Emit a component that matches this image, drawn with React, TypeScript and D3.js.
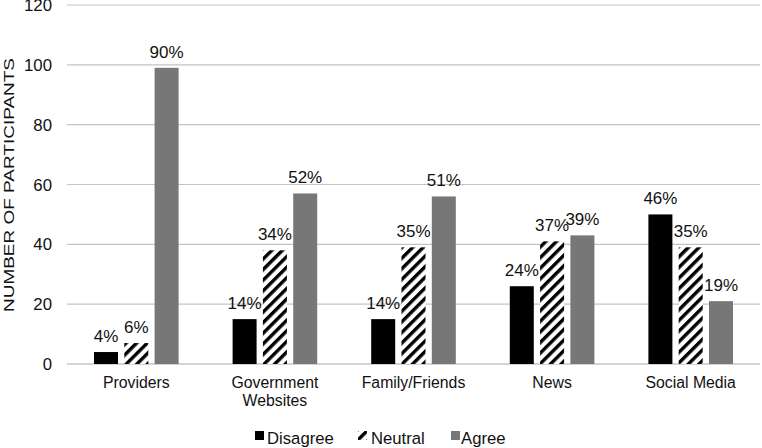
import React from "react";
import * as d3 from "d3";

const categories = ["Providers", "Government\nWebsites", "Family/Friends", "News", "Social Media"];
const seriesNames = ["Disagree", "Neutral", "Agree"];
const disagree = [4, 15, 15, 26, 50];
const neutral = [7, 38, 39, 41, 39];
const agree = [99, 57, 56, 43, 21];
const disagreePct = ["4%", "14%", "14%", "24%", "46%"];
const neutralPct = ["6%", "34%", "35%", "37%", "35%"];
const agreePct = ["90%", "52%", "51%", "39%", "19%"];
const yTicks = [0, 20, 40, 60, 80, 100, 120];

const W = 762;
const H = 448;
const margin = { top: 5, right: 2, bottom: 84, left: 67 };
const font = "'Liberation Sans', Arial, sans-serif";
const GREY = "#777777";

export default function App() {
  const values = [disagree, neutral, agree];
  const pcts = [disagreePct, neutralPct, agreePct];
  const fills = ["#000000", "url(#hatch)", GREY];

  const x0 = d3.scaleBand().domain(categories).range([margin.left, W - margin.right]);
  const x1 = d3.scaleBand().domain(seriesNames).range([-42.3, 42.3]).paddingInner(0.208);
  const y = d3.scaleLinear().domain([0, 120]).range([H - margin.bottom, margin.top]);

  return (
    <svg width={W} height={H} style={{ position: "absolute", left: 0, top: 0, background: "#fff" }} fontFamily={font}>
      <defs>
        <pattern id="hatch" patternUnits="userSpaceOnUse" width="7.5" height="7.5" patternTransform="rotate(45)">
          <rect width="7.5" height="7.5" fill="#fff" />
          <rect width="3.4" height="7.5" fill="#000" />
        </pattern>
      </defs>

      {yTicks.map((t) => (
        <g key={t}>
          <line x1={margin.left} x2={W - margin.right} y1={y(t)} y2={y(t)} stroke={t === 0 ? "#aaaaaa" : "#c4c4c4"} strokeWidth={1.2} />
          <text x={52} y={y(t)} dy="0.36em" textAnchor="end" fontSize={16.8} fill="#111">{t}</text>
        </g>
      ))}

      <text transform={`translate(13.5, ${185}) rotate(-90)`} textAnchor="middle" fontSize={15}
        textLength={254} lengthAdjust="spacingAndGlyphs" fill="#111">NUMBER OF PARTICIPANTS</text>

      {categories.map((c, i) => {
        const cx = (x0(c) as number) + x0.bandwidth() / 2;
        return (
          <g key={c}>
            {seriesNames.map((s, k) => {
              const v = values[k][i];
              const bx = cx + (x1(s) as number);
              return (
                <g key={s}>
                  <rect x={bx} y={y(v)} width={x1.bandwidth()} height={y(0) - y(v)} fill={fills[k]} />
                  <text x={bx + x1.bandwidth() / 2} y={y(v) - 10} textAnchor="middle" fontSize={17} fill="#111">{pcts[k][i]}</text>
                </g>
              );
            })}
            {c.split("\n").map((line, j) => (
              <text key={j} x={cx} y={388 + j * 18} textAnchor="middle" fontSize={15.8} fill="#111">{line}</text>
            ))}
          </g>
        );
      })}

      <g>
        <rect x={255} y={431} width={9} height={9} fill="#000" />
        <text x={267} y={444} fontSize={16.7} fill="#111">Disagree</text>
        <rect x={358} y={431} width={9} height={9} fill="url(#hatch)" />
        <text x={371} y={444} fontSize={16.7} fill="#111">Neutral</text>
        <rect x={451} y={431} width={9} height={9} fill={GREY} />
        <text x={461} y={444} fontSize={16.7} fill="#111">Agree</text>
      </g>
    </svg>
  );
}
